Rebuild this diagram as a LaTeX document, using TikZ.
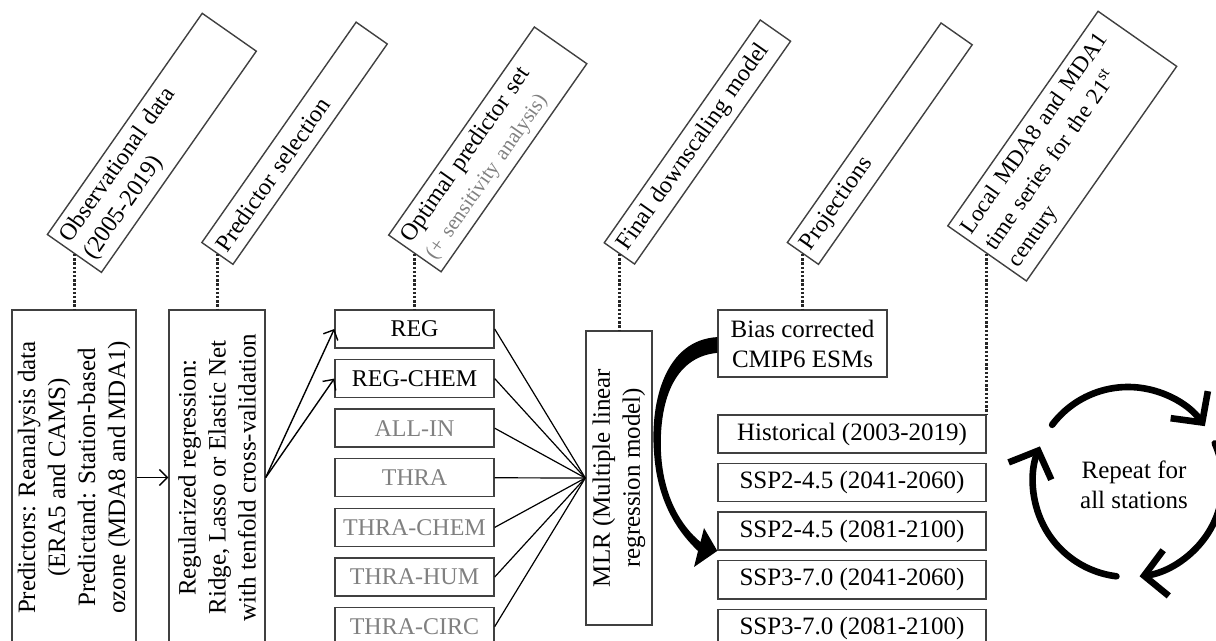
\documentclass[tikz,border=0pt]{standalone}
\usepackage{fontspec}
\setmainfont{Liberation Serif}
\usetikzlibrary{arrows.meta,positioning}

\begin{document}
\begin{tikzpicture}[x=0.5pt, y=-0.5pt, font=\fontsize{12.5pt}{15pt}\selectfont,
    box/.style={draw=black!75, line width=0.7pt, align=center, inner sep=2pt},
    tallbox/.style={box, rotate=90, minimum width=167.5pt, minimum height=#1},
    listbox/.style={box, minimum width=79.5pt, minimum height=19pt, font=\fontsize{12pt}{14pt}\selectfont},
    offbox/.style={listbox, text=black!50},
    scenbox/.style={box, minimum width=134pt, minimum height=19pt},
    labelbox/.style 2 args={draw=black!75, line width=0.7pt, rotate=55, anchor=west,
        font=\fontsize{12pt}{14.5pt}\selectfont, align=left, inner xsep=3pt,
        inner ysep=2pt, text width=#1, minimum height=#2},
    dots/.style={line width=1.5pt, dash pattern=on 1.2pt off 0.9pt, black!85},
    arr/.style={-{Straight Barb[length=4pt,width=8pt]}, line width=0.7pt},
    fan/.style={line width=0.6pt},
    cyc/.style={line width=3.3pt, line cap=round, -{Straight Barb[length=11pt,width=23pt]}}]
  \useasboundingbox (0,0) rectangle (1216,641);
  \clip (0,0) rectangle (1216,641);

  \node[tallbox=62pt] (box1) at (74,477.5) {Predictors: Reanalysis data\\(ERA5 and CAMS)\\Predictand: Station-based\\ozone (MDA8 and MDA1)};
  \node[tallbox=48pt] (box2) at (217,477.5) {Regularized regression:\\Ridge, Lasso or Elastic Net\\with tenfold cross-validation};

  \node[listbox] (reg) at (414.5,329) {REG};
  \node[listbox, below=5.1pt of reg] (regchem) {REG-CHEM};
  \node[offbox, below=5.1pt of regchem] (allin) {ALL-IN};
  \node[offbox, below=5.1pt of allin] (thra) {THRA};
  \node[offbox, below=5.1pt of thra] (thrachem) {THRA-CHEM};
  \node[offbox, below=5.1pt of thrachem] (thrahum) {THRA-HUM};
  \node[offbox, below=5.1pt of thrahum] (thracirc) {THRA-CIRC};

  \node[box, rotate=90, minimum width=147pt, minimum height=33pt] (mlr) at (619,478) {MLR (Multiple linear\\regression model)};

  \node[box, minimum width=84.5pt, minimum height=33.5pt] (bias) at (802.5,343.5) {Bias corrected\\CMIP6 ESMs};
  \node[scenbox] (hist) at (852,434) {Historical (2003-2019)};
  \node[scenbox, below=4.6pt of hist] (sspa) {SSP2-4.5 (2041-2060)};
  \node[scenbox, below=4.6pt of sspa] (sspb) {SSP2-4.5 (2081-2100)};
  \node[scenbox, below=4.6pt of sspb] (sspc) {SSP3-7.0 (2041-2060)};
  \node[scenbox, below=4.6pt of sspc] (sspd) {SSP3-7.0 (2081-2100)};

  \node[labelbox={129pt}{33pt}] (obs) at (box1.east |- 0,254) {Observational data\\(2005-2019)};
  \node[labelbox={128.5pt}{19pt}] (sel) at (box2.east |- 0,254) {Predictor selection};
  \node[labelbox={121pt}{32pt}] (opt) at (reg.north |- 0,254) {Optimal predictor set\\{\color{black!50}\fontsize{10.5pt}{12pt}\selectfont(+ sensitivity analysis)}};
  \node[labelbox={130pt}{18.5pt}] (fin) at (mlr.east |- 0,254) {Final downscaling model};
  \node[labelbox={128pt}{19pt}] (proj) at (bias.north |- 0,254) {Projections};
  \node[labelbox={125pt}{48pt}, font=\fontsize{11.5pt}{14.5pt}\selectfont] (loc) at (hist.north east |- 0,254) {Local MDA8 and MDA1\\time series for the 21\textsuperscript{st}\\century};

  \draw[dots] (obs.west) -- (box1.east);
  \draw[dots] (sel.west) -- (box2.east);
  \draw[dots] (opt.west) -- (reg.north);
  \draw[dots] (fin.west) -- (mlr.east);
  \draw[dots] (proj.west) -- (bias.north);
  \draw[dots] (loc.west) -- (hist.north east);

  \draw[arr] (box1.south) -- (box2.north);
  \draw[arr] (box2.south) -- (reg.west);
  \draw[arr] (box2.south) -- (regchem.west);
  \foreach \n in {reg,regchem,allin,thra,thrachem,thrahum,thracirc}
    \draw[fan] (\n.east) -- (mlr.north);

  \fill ([yshift=3.2pt]bias.west) .. controls (666,340) and (650,400) .. (654,452)
    .. controls (657,500) and (676,530) .. (698,551) -- (694,567) -- (sspb.south west)
    -- (704,528) -- (700.5,542) .. controls (680,525) and (663,495) .. (661,452)
    .. controls (659,405) and (672,357) .. ([yshift=-4.7pt]bias.west) -- cycle;

  \coordinate (cc) at (1128,482);
  \node[align=center] (rep) at (1134,485) {Repeat for\\all stations};
  \draw[cyc] (cc) ++(-143:95) arc[start angle=-143, end angle=-36, radius=95];
  \draw[cyc] (cc) ++(-24:95) arc[start angle=-24, end angle=83, radius=95];
  \draw[cyc] (cc) ++(97:95) arc[start angle=97, end angle=202, radius=95];
\end{tikzpicture}
\end{document}
